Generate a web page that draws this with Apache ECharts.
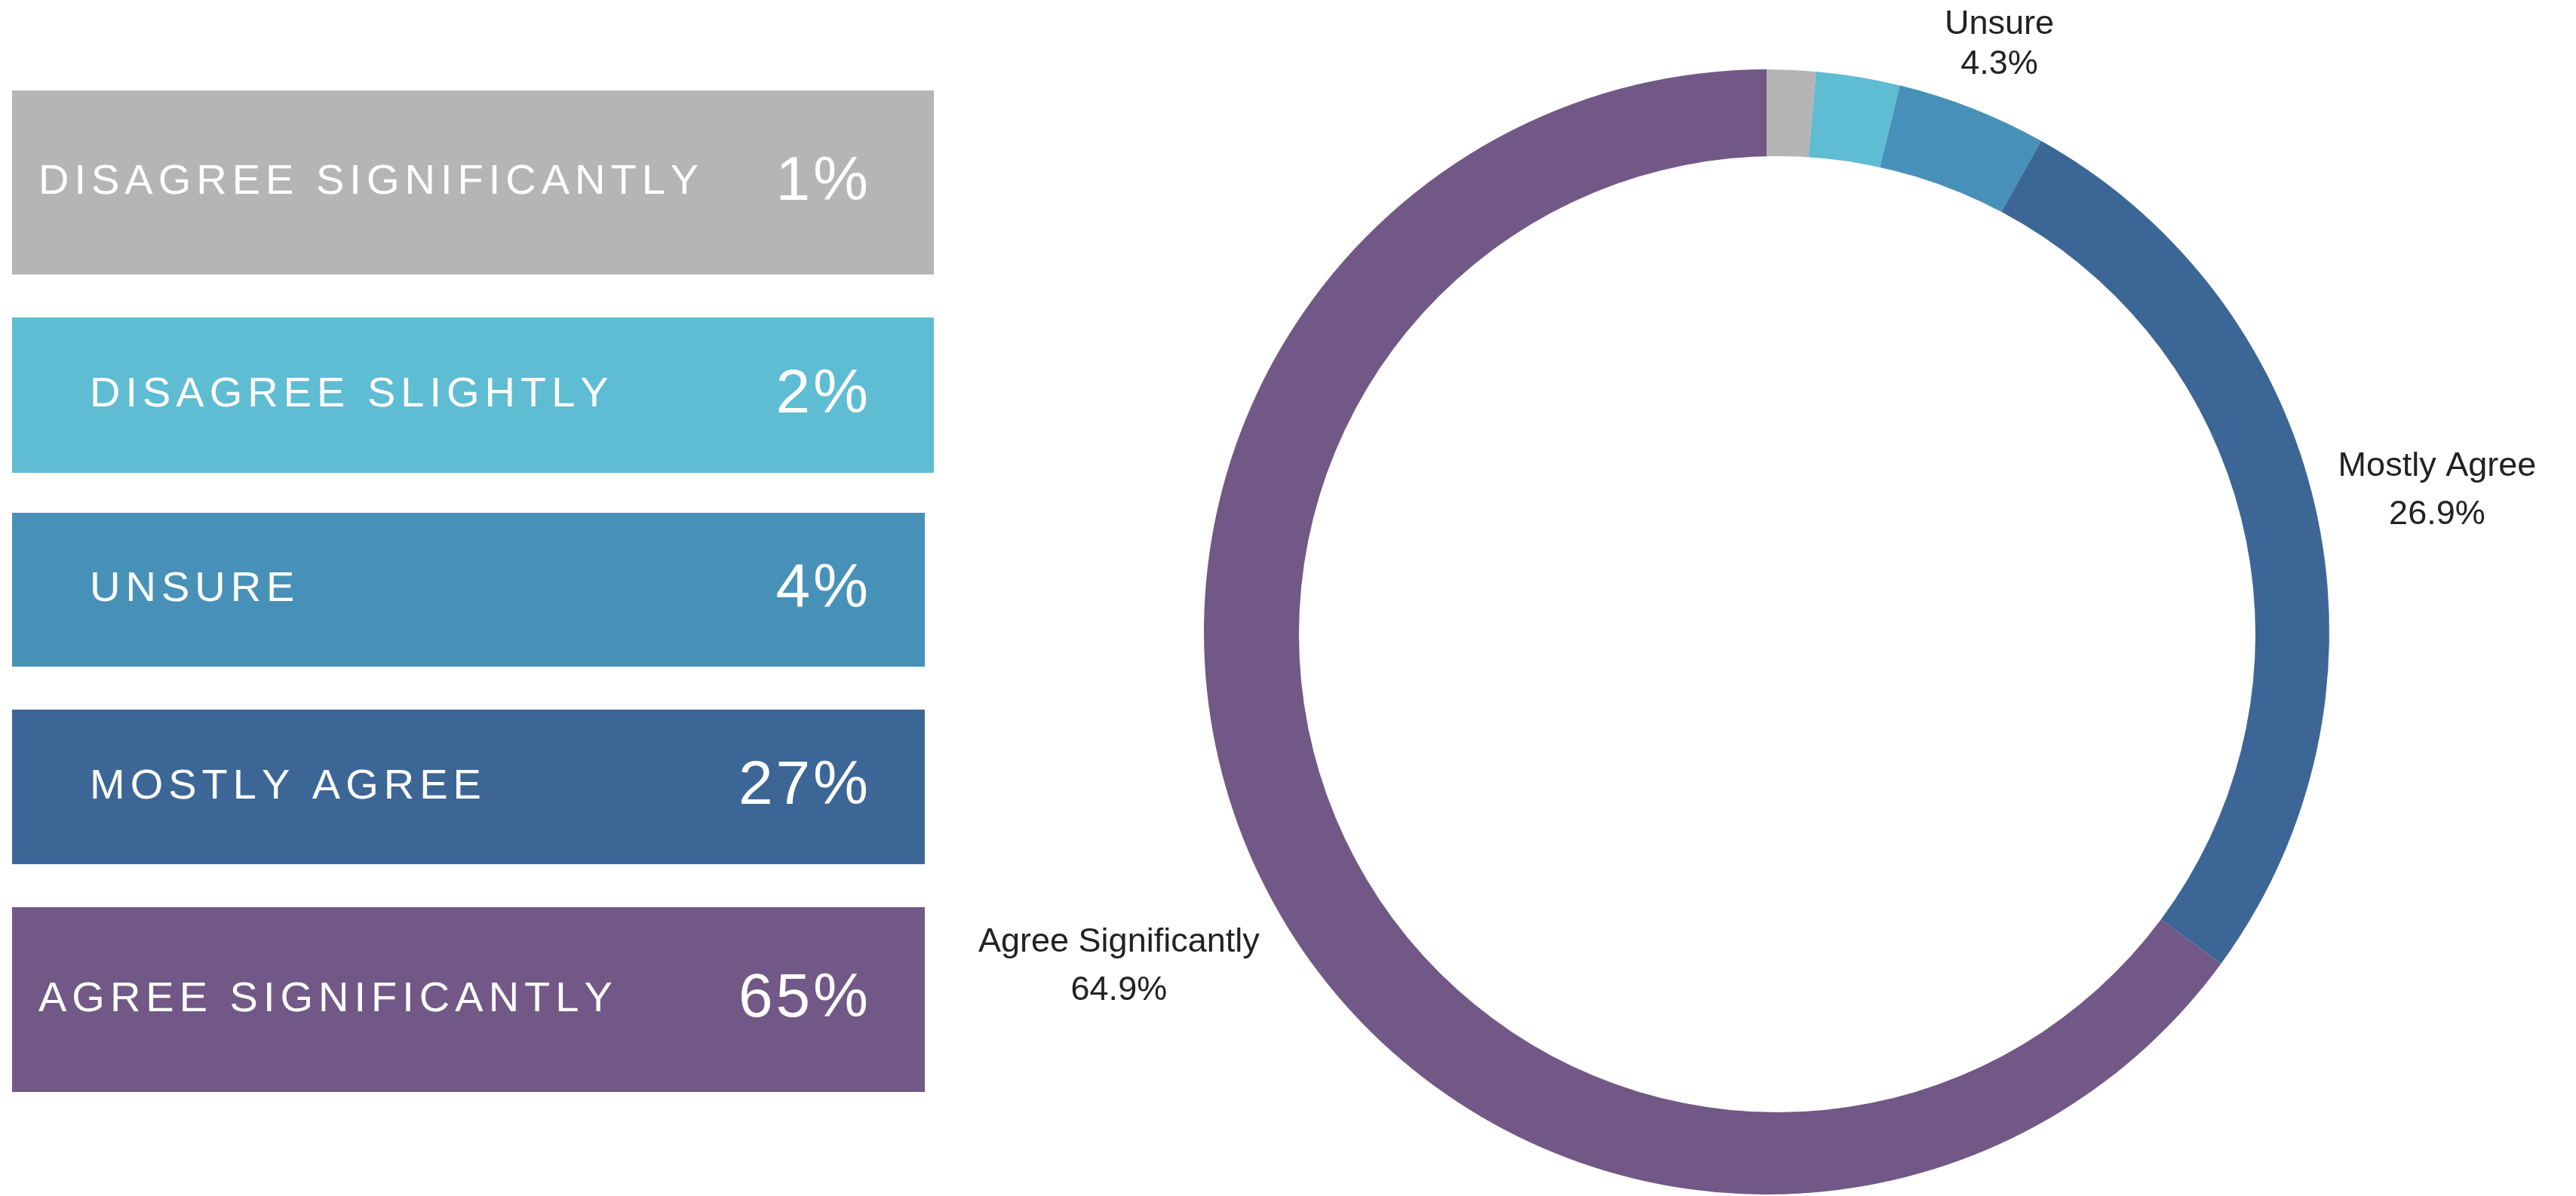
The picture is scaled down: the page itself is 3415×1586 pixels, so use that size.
<!DOCTYPE html>
<html>
<head>
<meta charset="utf-8">
<title>Survey responses</title>
<script src="https://cdn.jsdelivr.net/npm/echarts@6/dist/echarts.min.js"></script>
<style>
  html, body { margin: 0; padding: 0; background: #fff; }
  #main { width: 3415px; height: 1586px; }
</style>
</head>
<body>
<div id="main"></div>
<script>
// answers, in the order the slices run clockwise from 12 o'clock
const categories = ['Disagree Significantly', 'Disagree Slightly', 'Unsure', 'Mostly Agree', 'Agree Significantly'];
const shares = [1.4, 2.4, 4.3, 26.9, 64.9];
// the two smallest slices have no label on the ring
const ringLabel = [false, false, true, true, true];

const colors = ['#b5b5b5', '#5ebcd3', '#4791b8', '#3c6695', '#725886'];

// box layout on the left
const boxTop = [120, 421, 680, 941, 1203];
const boxHeight = [244, 206, 204, 205, 245];
const boxWidth = [1222, 1222, 1210, 1210, 1210];
const nameLeft = [51, 119, 119, 119, 51];

const CX = 2342, CY = 838, R_OUT = 746;
// the hole sits a little right of the ring's centre in the original
const HOLE = { cx: 2356, cy: 841, r: 634 };
const FONT = '"Liberation Sans", Arial, sans-serif';

// letter spacing: every char its own rich token with side padding
function spaced(str, key) {
  return str.split('').map(function (ch) { return '{' + key + '|' + ch + '}'; }).join('');
}

const total = shares.reduce(function (a, b) { return a + b; }, 0);
function midAngle(i) {
  let before = 0;
  for (let k = 0; k < i; k++) before += shares[k];
  return (before + shares[i] / 2) / total * Math.PI * 2;
}

const NAME_PAD = 3.5, PCT_PAD = 2;
let elements = [];
categories.forEach(function (name, i) {
  const mid = boxTop[i] + boxHeight[i] / 2;
  elements.push({
    type: 'rect',
    silent: true,
    shape: { x: 16, y: boxTop[i], width: boxWidth[i], height: boxHeight[i] },
    style: { fill: colors[i] }
  });
  elements.push({
    type: 'text',
    silent: true,
    style: {
      x: nameLeft[i] - NAME_PAD, y: mid,
      text: spaced(name.toUpperCase(), 'n'),
      align: 'left', verticalAlign: 'middle',
      textAlign: 'left', textVerticalAlign: 'middle',
      rich: { n: { fill: '#fff', fontSize: 56, fontFamily: FONT, padding: [0, NAME_PAD, 0, NAME_PAD] } }
    }
  });
  elements.push({
    type: 'text',
    silent: true,
    style: {
      x: 1151 + PCT_PAD, y: mid,
      text: spaced(Math.round(shares[i]) + '%', 'p'),
      align: 'right', verticalAlign: 'middle',
      textAlign: 'right', textVerticalAlign: 'middle',
      rich: { p: { fill: '#fff', fontSize: 82, fontFamily: FONT, padding: [0, PCT_PAD, 0, PCT_PAD] } }
    }
  });
});
// donut hole
elements.push({
  type: 'circle',
  silent: true,
  z: 100,
  shape: { cx: HOLE.cx, cy: HOLE.cy, r: HOLE.r },
  style: { fill: '#fff' }
});

const chart = echarts.init(document.getElementById('main'));
chart.setOption({
  backgroundColor: '#fff',
  animation: false,
  graphic: { elements: elements },
  series: [{
    type: 'pie',
    center: [CX, CY],
    radius: [0, R_OUT],
    startAngle: 90,
    clockwise: true,
    silent: true,
    avoidLabelOverlap: false,
    label: {
      show: true,
      position: 'outside',
      color: '#222',
      fontFamily: FONT,
      fontSize: 45,
      lineHeight: 64,
      align: 'center',
      formatter: function (p) { return p.name + '\n' + p.value.toFixed(1) + '%'; }
    },
    labelLine: { show: false },
    // put each label just outside the ring along the slice's middle
    labelLayout: function (params) {
      const a = midAngle(params.dataIndex);
      const dx = Math.sin(a), dy = -Math.cos(a);
      const w = params.labelRect.width / 2, h = params.labelRect.height / 2;
      const dist = R_OUT + 22 + Math.abs(dx) * w + Math.abs(dy) * h;
      return { x: CX + dx * dist, y: CY + dy * dist + 7, align: 'center', verticalAlign: 'middle' };
    },
    data: categories.map(function (name, i) {
      return {
        name: name,
        value: shares[i],
        itemStyle: { color: colors[i] },
        label: ringLabel[i] ? (i === 2 ? { lineHeight: 53 } : {}) : { show: false }
      };
    })
  }]
});
</script>
</body>
</html>
